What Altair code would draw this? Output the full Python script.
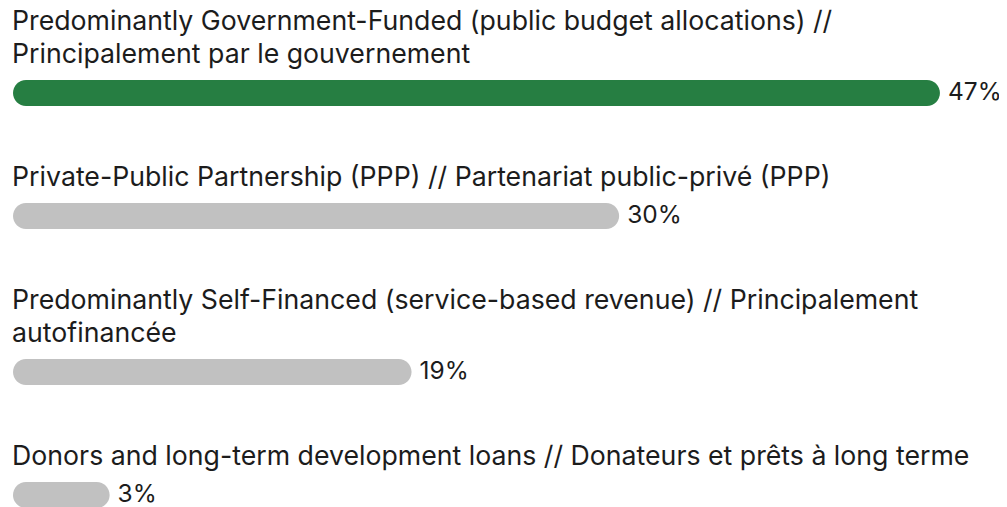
import altair as alt
import pandas as pd

# ---- data ----
labels = [
    ["Predominantly Government-Funded (public budget allocations) //",
     "Principalement par le gouvernement"],
    ["Private-Public Partnership (PPP) // Partenariat public-privé (PPP)"],
    ["Predominantly Self-Financed (service-based revenue) // Principalement",
     "autofinancée"],
    ["Donors and long-term development loans // Donateurs et prêts à long terme"],
]
values = [47, 30, 19, 3]
highlight = [True, False, False, False]

# ---- layout (page pixels) ----
FIRST, LINE_H, BAR_GAP, ROW_GAP, BAR_H = 22, 33, 38, 85, 26
BASE = -2.12  # bar start in value units (rounded cap offset)

bars, texts, pcts = [], [], []
y = FIRST
for i, (lab, v) in enumerate(zip(labels, values)):
    for j, line in enumerate(lab):
        texts.append({"t": line, "y": y + j * LINE_H})
    yb = y + (len(lab) - 1) * LINE_H + BAR_GAP
    bars.append({"v": v, "base": BASE, "y": yb - BAR_H / 2, "y2": yb + BAR_H / 2,
                 "hl": "hl" if highlight[i] else "no"})
    pcts.append({"v": v, "y": yb, "lab": f"{v}%"})
    y = yb + ROW_GAP

W, H = 991, 499
xs = alt.Scale(domain=[-2.385, 50.13], range=[0, W], nice=False, zero=False)
ys = alt.Scale(domain=[8, 8 + H], range=[0, H], nice=False, zero=False)
FONT = "Inter"
FS = 26.7

bar = alt.Chart(pd.DataFrame(bars)).mark_bar(cornerRadius=13).encode(
    x=alt.X("v:Q", scale=xs, axis=None),
    x2="base:Q",
    y=alt.Y("y:Q", scale=ys, axis=None),
    y2="y2:Q",
    color=alt.Color("hl:N", scale=alt.Scale(domain=["hl", "no"], range=["#267e42", "#c1c1c1"]), legend=None),
)

lab = alt.Chart(pd.DataFrame(texts)).mark_text(
    align="left", baseline="middle", font=FONT, fontSize=FS, color="#1c1c1c"
).encode(
    x=alt.X("base:Q", scale=xs, axis=None),
    y=alt.Y("y:Q", scale=ys, axis=None),
    text="t:N",
).transform_calculate(base=str(BASE - 0.05))

pct = alt.Chart(pd.DataFrame(pcts)).mark_text(
    align="left", baseline="middle", font=FONT, fontSize=24.5, color="#1c1c1c", dx=8
).encode(
    x=alt.X("v:Q", scale=xs, axis=None),
    y=alt.Y("y:Q", scale=ys, axis=None),
    text="lab:N",
)

chart = alt.layer(bar, lab, pct).properties(
    width=W, height=H, padding=0, autosize=alt.AutoSizeParams(type="none")
).configure_view(stroke=None)

chart.save("out.html", embed_options={"renderer": "svg", "actions": False})
